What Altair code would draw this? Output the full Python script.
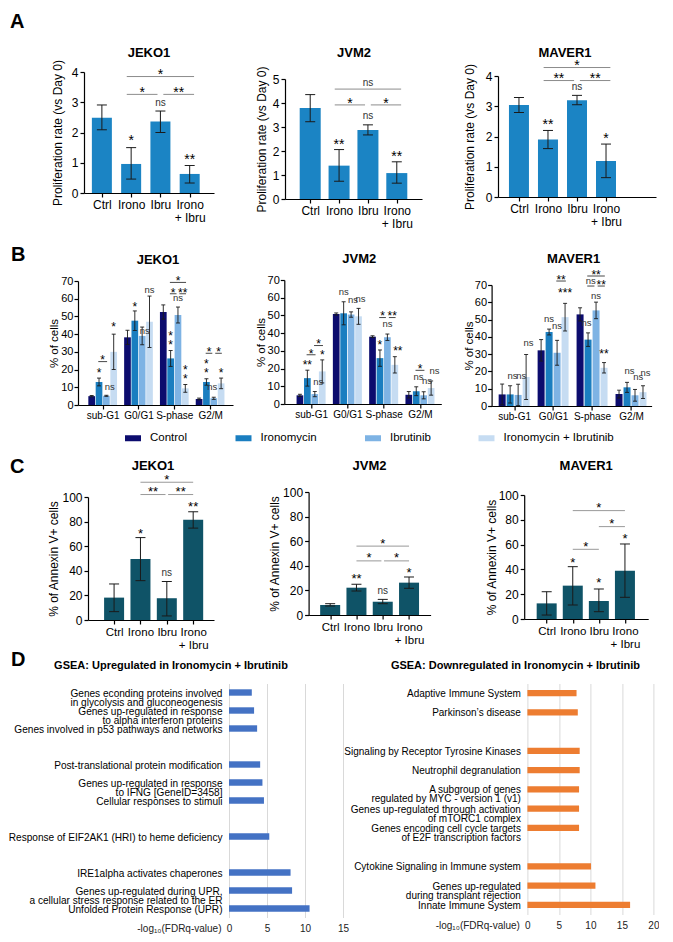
import json
import altair as alt
import pandas as pd

FONT = "Liberation Sans"
NARROW = "Liberation Sans Narrow, Liberation Sans"
ERR = "#1a1a1a"

# ================= Panel A : proliferation rate =================
a_categories = ["Ctrl", "Irono", "Ibru", "Irono\n+ Ibru"]
a_ytitle = "Proliferation rate (vs Day 0)"
a_lines = ["JEKO1", "JVM2", "MAVER1"]

a_jeko1_mean = [2.49, 0.96, 2.36, 0.63]
a_jeko1_lo = [2.09, 0.46, 2.00, 0.33]
a_jeko1_hi = [2.91, 1.50, 2.71, 0.91]
a_jeko1_sig = [(1, 1.83, "*"), (2, 2.97, "ns"), (3, 1.22, "**")]
a_jeko1_br = [(1, 3, 3.85, "*"), (1, 2, 3.26, "*"), (2, 3, 3.26, "**")]

a_jvm2_mean = [3.79, 1.39, 2.88, 1.08]
a_jvm2_lo = [3.22, 0.74, 2.67, 0.66]
a_jvm2_hi = [4.35, 2.06, 3.09, 1.55]
a_jvm2_sig = [(1, 2.40, "**"), (2, 3.44, "ns"), (3, 1.92, "**")]
a_jvm2_br = [(1, 3, 4.58, "ns"), (1, 2, 3.92, "*"), (2, 3, 3.92, "*")]

a_maver1_mean = [3.04, 1.90, 3.20, 1.19]
a_maver1_lo = [2.79, 1.60, 3.05, 0.64]
a_maver1_hi = [3.29, 2.20, 3.36, 1.75]
a_maver1_sig = [(1, 2.49, "**"), (2, 3.65, "ns"), (3, 2.04, "*")]
a_maver1_br = [(1, 3, 4.28, "*"), (1, 2, 3.85, "**"), (2, 3, 3.85, "**")]

# ================= Panel B : cell cycle =================
b_phases = ["sub-G1", "G0/G1", "S-phase", "G2/M"]
b_treatments = ["Control", "Ironomycin", "Ibrutinib", "Ironomycin + Ibrutinib"]
b_colors = ["#0C0C6E", "#1A7EC0", "#7EB3E4", "#C6DCF2"]
b_ytitle = "% of cells"

b_jeko1_mean = [[5.0, 13.0, 5.2, 30.0], [38.2, 47.6, 39.0, 47.0],
                [52.5, 26.3, 50.8, 9.4], [3.4, 13.0, 3.8, 12.2]]
b_jeko1_err = [[0.4, 2.2, 0.3, 10.0], [4.0, 5.5, 5.0, 14.5],
               [4.0, 4.5, 4.5, 2.2], [0.5, 1.8, 0.6, 3.0]]
b_jeko1_sig = [(0, 1, 19.8, "*"), (0, 2.45, 10.0, "ns"), (0, 3, 46.0, "*"),
               (1, 1, 57.4, "*"), (1, 2.35, 42.0, "ns"), (1, 3, 65.0, "ns"),
               (2, 1, 40.8, "*"), (2, 1, 35.6, "*"), (2, 2, 60.2, "ns"),
               (2, 3, 21.6, "*"), (2, 3, 16.4, "*"),
               (3, 1, 25.0, "*"), (3, 1, 19.8, "*"), (3, 1.8, 10.0, "ns"), (3, 3, 19.8, "*")]
b_jeko1_br = [(0, 1, 2, 24.5, "*"), (2, 1, 3, 69.2, "*"), (2, 1, 2, 62.8, "*"),
              (2, 2, 3, 62.8, "**"), (3, 1, 2, 29.2, "*"), (3, 2, 3, 29.2, "*")]

b_jvm2_mean = [[4.9, 14.6, 5.6, 18.4], [50.8, 51.2, 50.5, 49.5],
               [38.0, 25.9, 37.7, 22.1], [5.2, 7.2, 4.9, 9.0]]
b_jvm2_err = [[0.6, 4.5, 1.5, 6.5], [0.6, 6.5, 1.5, 4.5],
              [0.5, 4.6, 1.8, 4.6], [1.8, 2.5, 2.0, 4.0]]
b_jvm2_sig = [(0, 1, 24.0, "**"), (0, 2.45, 12.2, "ns"), (0, 3, 29.6, "*"),
              (1, 1, 63.4, "ns"), (1, 2.25, 58.7, "ns"), (1, 3.25, 59.5, "ns"),
              (2, 1, 35.3, "*"), (2, 2, 45.2, "ns"), (2, 3.4, 31.5, "**"),
              (3, 1.3, 15.0, "ns"), (3, 2.45, 12.8, "ns"), (3, 3.45, 18.4, "ns")]
b_jvm2_br = [(0, 1, 2, 27.8, "*"), (0, 2, 3, 33.0, "*"), (2, 1, 2, 48.8, "*"),
             (2, 2, 3, 48.8, "**"), (3, 1, 2, 19.0, "*")]

b_maver1_mean = [[6.7, 6.7, 6.4, 16.8], [32.2, 42.8, 30.8, 51.4],
                 [53.0, 38.4, 55.3, 22.1], [6.9, 10.8, 6.2, 8.0]]
b_maver1_err = [[6.0, 5.0, 6.2, 13.0], [6.2, 1.7, 7.2, 8.0],
                [3.8, 3.9, 4.8, 3.0], [2.3, 2.9, 3.4, 3.7]]
b_maver1_sig = [(0, 1.3, 17.3, "ns"), (0, 2.4, 17.3, "ns"), (0, 3.3, 36.4, "ns"),
                (1, 1, 50.2, "ns"), (1, 2, 46.0, "ns"), (1, 3, 67.5, "***"),
                (2, 0.8, 48.0, "ns"), (2, 2, 63.7, "ns"), (2, 3, 32.2, "**"),
                (3, 1.3, 20.5, "ns"), (3, 2.4, 16.9, "ns"), (3, 3.3, 19.2, "ns")]
b_maver1_br = [(1, 2, 3, 72.3, "**"), (2, 1, 3, 75.2, "**"), (2, 1, 2, 69.4, "ns"),
               (2, 2, 3, 69.4, "**")]

# ================= Panel C : Annexin V =================
c_ytitle = "% of Annexin V+ cells"
c_color = "#0F5367"

c_jeko1_mean = [18.2, 49.5, 17.7, 81.5]
c_jeko1_lo = [6.8, 32.0, 3.3, 74.7]
c_jeko1_hi = [29.3, 67.0, 31.3, 88.0]
c_jeko1_sig = [(1, 73.0, "*"), (2, 38.6, "ns"), (3, 94.6, "**")]
c_jeko1_br = [(1, 3, 112.0, "*"), (1, 2, 102.0, "**"), (2, 3, 102.0, "**")]

c_jvm2_mean = [8.1, 22.2, 10.8, 26.3]
c_jvm2_lo = [7.3, 19.5, 9.2, 21.7]
c_jvm2_hi = [9.2, 25.0, 12.7, 30.9]
c_jvm2_sig = [(1, 32.0, "**"), (2, 19.5, "ns"), (3, 37.0, "*")]
c_jvm2_br = [(1, 3, 56.0, "*"), (1, 2, 44.0, "*"), (2, 3, 44.0, "*")]

c_maver1_mean = [12.6, 26.9, 14.5, 39.0]
c_maver1_lo = [3.2, 11.3, 5.9, 17.5]
c_maver1_hi = [22.0, 42.2, 24.2, 60.5]
c_maver1_sig = [(1, 48.0, "*"), (2, 31.5, "*"), (3, 67.7, "*")]
c_maver1_br = [(1, 2, 56.2, "*"), (2, 3, 74.5, "*"), (1, 3, 87.4, "*")]

# ================= Panel D : GSEA =================
d_axis_title = "-log\u2081\u2080(FDRq-value)"
d_up_title = "GSEA: Upregulated in Ironomycin + Ibrutinib"
d_up_slots = [0, 1, 2, 4, 5, 6, 8, 10, 11, 12]
d_up_labels = ["Genes econding proteins involved\nin glycolysis and gluconeogenesis",
               "Genes up-regulated in response\nto alpha interferon proteins",
               "Genes involved in p53 pathways and networks",
               "Post-translational protein modification",
               "Genes up-regulated in response\nto IFNG [GeneID=3458]",
               "Cellular responses to stimuli",
               "Response of EIF2AK1 (HRI) to heme deficiency",
               "IRE1alpha activates chaperones",
               "Genes up-regulated during UPR,\na cellular stress response related to the ER",
               "Unfolded Protein Response (UPR)"]
d_up_values = [3.0, 3.3, 3.7, 4.1, 4.4, 4.6, 5.3, 8.1, 8.3, 10.6]

d_dn_title = "GSEA: Downregulated in Ironomycin + Ibrutinib"
d_dn_slots = [0, 1, 3, 4, 5, 6, 7, 9, 10, 11]
d_dn_labels = ["Adaptive Immune System",
               "Parkinson\u2019s disease",
               "Signaling by Receptor Tyrosine Kinases",
               "Neutrophil degranulation",
               "A subgroup of genes\nregulated by MYC - version 1 (v1)",
               "Genes up-regulated through activation\nof mTORC1 complex",
               "Genes encoding cell cycle targets\nof E2F transcription factors",
               "Cytokine Signaling in Immune system",
               "Genes up-regulated\nduring transplant rejection",
               "Innate Immune System"]
d_dn_values = [7.8, 8.0, 8.3, 8.3, 8.2, 8.2, 8.2, 10.1, 10.8, 16.3]

panel_letters = ["A", "B", "C", "D"]


# ----------------------------------------------------------------
def lab_expr(labels):
    arr = [l.split("\n") if "\n" in l else l for l in labels]
    return json.dumps(arr, ensure_ascii=False) + "[datum.value]"


def bracket_rows(brs, pos, e_out, e_in):
    rows = []
    for idx, (g, a, b, y, t) in enumerate(brs):
        left_shared = any(j != idx and o[0] == g and abs(o[3] - y) < 1e-9 and o[2] == a
                          for j, o in enumerate(brs))
        right_shared = any(j != idx and o[0] == g and abs(o[3] - y) < 1e-9 and o[1] == b
                           for j, o in enumerate(brs))
        x1 = pos(g, a) + (e_in if left_shared else -e_out)
        x2 = pos(g, b) + (-e_in if right_shared else e_out)
        rows.append({"x": x1, "x2": x2, "xm": (x1 + x2) / 2, "y": y, "t": t})
    return rows


def text_layers(rows, X, Y, star_size, ns_size, star_dy, ns_dy):
    out = []
    stars = [r for r in rows if "n" not in r["t"]]
    nss = [r for r in rows if "n" in r["t"]]
    if stars:
        out.append(alt.Chart(pd.DataFrame(stars)).mark_text(
            font=FONT, fontSize=star_size, dy=star_dy, baseline="middle", align="center",
            color="black").encode(x=X("x"), y=Y("y"), text="t:N"))
    if nss:
        out.append(alt.Chart(pd.DataFrame(nss)).mark_text(
            font=FONT, fontSize=ns_size, dy=ns_dy, baseline="middle", align="center",
            color="#333333").encode(x=X("x"), y=Y("y"), text="t:N"))
    return out


def deco_layers(items):
    """Panel letters / panel titles, placed relative to the panel's plot origin."""
    out = []
    for (t, px, py, size, align, baseline) in items:
        out.append(alt.Chart(pd.DataFrame({"t": [t]})).mark_text(
            font=FONT, fontSize=size, fontWeight="bold", align=align, baseline=baseline,
            color="black").encode(x=alt.value(px), y=alt.value(py), text="t:N"))
    return out


def simple_panel(cats, mean, lo, hi, sig, brs, c):
    n = len(mean)
    xs = alt.Scale(domain=c["xdom"], range=c["xr"], nice=False, zero=False)
    ys = alt.Scale(domain=[0, c["ymax"]], range=c["yr"], nice=False, zero=True)
    xax = alt.Axis(values=list(range(n)), labelExpr=lab_expr(cats), title=None, labelAngle=0,
                   labelFont=c["xfont"], labelFontSize=c["xsize"], labelLineHeight=c["xlh"],
                   labelPadding=2, tickSize=4, grid=False, labelFlush=False, labelOverlap=False)
    yax = alt.Axis(values=c["yvals"], title=c["ytitle"], titleFont=FONT, titleFontSize=12,
                   titleFontWeight="normal", titlePadding=c["tpad"], labelFont=c["yfont"],
                   labelFontSize=12, labelPadding=2, tickSize=4, grid=False, labelFlush=False,
                   offset=-c["xr"][0])

    def X(f):
        return alt.X(f + ":Q", scale=xs, axis=xax)

    def Y(f):
        return alt.Y(f + ":Q", scale=ys, axis=yax)

    df = pd.DataFrame({"x": list(range(n)), "m": mean, "lo": lo, "hi": hi})
    layers = [
        alt.Chart(df).mark_bar(size=c["bar"], color=c["color"], orient="vertical", opacity=1)
        .encode(x=X("x"), y=Y("m")),
        alt.Chart(df).mark_rule(color=ERR, strokeWidth=1, opacity=1)
        .encode(x=X("x"), y=Y("lo"), y2=alt.Y2("hi")),
        alt.Chart(df).mark_tick(orient="horizontal", size=c["cap"], thickness=1, color=ERR, opacity=1)
        .encode(x=X("x"), y=Y("hi")),
        alt.Chart(df).mark_tick(orient="horizontal", size=c["cap"], thickness=1, color=ERR, opacity=1)
        .encode(x=X("x"), y=Y("lo")),
    ]
    sig_rows = [{"x": i, "y": y, "t": t} for (i, y, t) in sig]
    layers += text_layers(sig_rows, X, Y, c["star"], c["ns"], 0.27 * c["star"], 0)
    br = bracket_rows([(0, a, b, y, t) for (a, b, y, t) in brs], lambda g, s: s, c["e_out"], c["e_in"])
    layers.append(alt.Chart(pd.DataFrame(br)).mark_rule(color=c["brc"], strokeWidth=1, opacity=1)
                  .encode(x=X("x"), x2=alt.X2("x2"), y=Y("y")))
    br_txt = [{"x": r["xm"], "y": r["y"], "t": r["t"]} for r in br]
    layers += text_layers(br_txt, X, Y, c["star"], c["ns"], 0.27 * c["star"] - c["gap"], -c["gap"] - 1)
    layers += deco_layers(c["deco"])
    return alt.layer(*layers).properties(width=c["w"], height=c["h"])


SW = 0.205
cscale = alt.Scale(domain=b_treatments, range=b_colors)


def cycle_panel(mean, err, sig, brs, c, legend):
    xs = alt.Scale(domain=c["xdom"], range=c["xr"], nice=False, zero=False)
    ys = alt.Scale(domain=[0, 70], range=c["yr"], nice=False, zero=True)
    xax = alt.Axis(values=[0, 1, 2, 3], labelExpr=lab_expr(b_phases), title=None, labelAngle=0,
                   labelFont=FONT, labelFontSize=10, labelPadding=1, tickSize=4, grid=False,
                   labelFlush=False, labelOverlap=False)
    yax = alt.Axis(values=list(range(0, 71, 10)), title=b_ytitle, titleFont=FONT,
                   titleFontSize=11.5, titleFontWeight="normal", titlePadding=c["tpad"],
                   labelFont=FONT, labelFontSize=11, labelPadding=1, tickSize=4, grid=False,
                   labelFlush=False, offset=-c["xr"][0])

    def X(f):
        return alt.X(f + ":Q", scale=xs, axis=xax)

    def Y(f):
        return alt.Y(f + ":Q", scale=ys, axis=yax)

    def pos(g, s):
        return g + (s - 1.5) * SW

    rows = []
    for g in range(4):
        for k in range(4):
            m = mean[g][k]
            e = err[g][k]
            rows.append({"x": pos(g, k), "m": m, "lo": max(m - e, 0), "hi": m + e,
                         "t": b_treatments[k]})
    df = pd.DataFrame(rows)
    layers = [
        alt.Chart(df).mark_bar(size=c["bar"], orient="vertical", opacity=1).encode(
            x=X("x"), y=alt.Y("m:Q", scale=ys, axis=yax, stack=None),
            color=alt.Color("t:N", scale=cscale, legend=legend)),
        alt.Chart(df).mark_rule(color=ERR, strokeWidth=0.9, opacity=1)
        .encode(x=X("x"), y=Y("lo"), y2=alt.Y2("hi")),
        alt.Chart(df).mark_tick(orient="horizontal", size=4, thickness=0.9, color=ERR, opacity=1)
        .encode(x=X("x"), y=Y("hi")),
        alt.Chart(df).mark_tick(orient="horizontal", size=4, thickness=0.9, color=ERR, opacity=1)
        .encode(x=X("x"), y=Y("lo")),
    ]
    sig_rows = [{"x": pos(g, s), "y": y, "t": t} for (g, s, y, t) in sig]
    layers += text_layers(sig_rows, X, Y, 12, 9.5, 3.2, 0)
    if brs:
        br = bracket_rows(brs, pos, 0.1 * SW, 0.2 * SW)
        layers.append(alt.Chart(pd.DataFrame(br)).mark_rule(color="#333333", strokeWidth=0.9, opacity=1)
                      .encode(x=X("x"), x2=alt.X2("x2"), y=Y("y")))
        br_txt = [{"x": r["xm"], "y": r["y"], "t": r["t"]} for r in br]
        layers += text_layers(br_txt, X, Y, 12, 9.5, -1.2, -5)
    layers += deco_layers(c["deco"])
    return alt.layer(*layers).properties(width=c["w"], height=c["h"])


def gsea_panel(slots, labels, values, nslots, xmax, color, c):
    lab_arr = [""] * nslots
    for s, l in zip(slots, labels):
        lab_arr[s] = l.split("\n") if "\n" in l else l
    x0 = c["xr"][0]
    yax = alt.Axis(labelExpr=json.dumps(lab_arr, ensure_ascii=False) + "[datum.value]",
                   title=None, ticks=False, domain=False, labelBaseline="top", labelOffset=-4,
                   labelLineHeight=9, labelFontSize=c["lf"], labelFont=FONT, labelPadding=7,
                   labelLimit=0, grid=False, labelColor="black", offset=-x0)
    ys = alt.Scale(domain=list(range(nslots)), paddingInner=c["pi"], paddingOuter=c["po"])
    xax = alt.Axis(values=list(range(0, xmax + 1, 5)), grid=True, gridColor="#d9d9d9", gridWidth=1,
                   domain=False, ticks=False, labelFont=FONT, labelFontSize=10, labelPadding=6,
                   labelFlush=False, labelColor="#222222", title=d_axis_title, titleX=x0 - 8,
                   titleY=6, titleAlign="right", titleBaseline="top", titleAngle=0,
                   titleFontWeight="normal", titleFontSize=10, titleFont=FONT,
                   titleColor="#222222")
    df = pd.DataFrame({"s": slots, "v": values})
    ch = alt.Chart(df).mark_bar(color=color, opacity=1).encode(
        x=alt.X("v:Q", scale=alt.Scale(domain=[0, xmax], range=c["xr"], nice=False), axis=xax),
        y=alt.Y("s:O", scale=ys, axis=yax))
    return alt.layer(ch, *deco_layers(c["deco"])).properties(width=c["w"], height=c["h"])


# ---------------- build panels ----------------
# text placements are relative to each panel's plot origin (top-left corner of its plot area)
a_common = dict(xfont=FONT, xsize=12, xlh=13, yfont=FONT, ytitle=a_ytitle, color="#1B84C4",
                cap=10, star=14, ns=10, e_out=0.15, e_in=0.1, brc="#8c8c8c", gap=5)
A1 = simple_panel(a_categories, a_jeko1_mean, a_jeko1_lo, a_jeko1_hi, a_jeko1_sig, a_jeko1_br,
                  dict(a_common, w=136, h=121, xr=[6, 136], yr=[121, 0], xdom=[-0.44, 3.66], ymax=4,
                       yvals=[0, 1, 2, 3, 4], bar=20, tpad=7,
                       deco=[(panel_letters[0], -68, -44, 20, "left", "alphabetic"),
                             (a_lines[0], 71, -19, 13, "center", "middle")]))
A2 = simple_panel(a_categories, a_jvm2_mean, a_jvm2_lo, a_jvm2_hi, a_jvm2_sig, a_jvm2_br,
                  dict(a_common, w=137, h=127, xr=[0, 137], yr=[127, 7], xdom=[-0.7, 3.7], ymax=5,
                       yvals=[0, 1, 2, 3, 4, 5], bar=21, tpad=4.3,
                       deco=[(a_lines[1], 69, -19, 13, "center", "middle")]))
A3 = simple_panel(a_categories, a_maver1_mean, a_maver1_lo, a_maver1_hi, a_maver1_sig, a_maver1_br,
                  dict(a_common, w=158, h=125, xr=[0, 158], yr=[125, 4], xdom=[-0.55, 4.55], ymax=4,
                       yvals=[0, 1, 2, 3, 4], bar=20, tpad=9.3,
                       deco=[(a_lines[2], 67, -19, 13, "center", "middle")]))

legend = alt.Legend(orient="none", legendX=47, legendY=358, direction="horizontal", title=None,
                    symbolType="M-1,-0.375H1V0.375H-1Z", symbolSize=256, symbolStrokeWidth=0,
                    symbolOpacity=1, labelFont=FONT, labelFontSize=11.5, labelColor="black",
                    columnPadding=47.5, labelOffset=9, padding=0)
B1 = cycle_panel(b_jeko1_mean, b_jeko1_err, b_jeko1_sig, b_jeko1_br,
                 dict(w=155, h=125, xr=[0, 155], yr=[125, 1], xdom=[-0.55, 3.5], bar=6.7, tpad=1,
                      deco=[(panel_letters[1], -67, -19, 20, "left", "alphabetic"),
                            (a_lines[0], 80, -20, 13, "center", "middle")]), legend)
B2 = cycle_panel(b_jvm2_mean, b_jvm2_err, b_jvm2_sig, b_jvm2_br,
                 dict(w=157, h=124, xr=[0, 157], yr=[124, 0], xdom=[-0.6, 3.45], bar=6.7, tpad=1,
                      deco=[(a_lines[1], 75, -21, 13, "center", "middle")]), None)
B3 = cycle_panel(b_maver1_mean, b_maver1_err, b_maver1_sig, b_maver1_br,
                 dict(w=160, h=126, xr=[0, 160], yr=[126, 5], xdom=[-0.45, 3.4], bar=7, tpad=0,
                      deco=[(a_lines[2], 82, -21, 13, "center", "middle")]), None)

c_common = dict(xfont=NARROW, xsize=11.5, xlh=13, yfont=NARROW, ytitle=c_ytitle, color=c_color,
                cap=10, star=13, ns=10, e_out=0.0, e_in=0.05, brc="#999999", gap=6,
                yvals=[0, 20, 40, 60, 80, 100], ymax=100, bar=20)
C1 = simple_panel(a_categories, c_jeko1_mean, c_jeko1_lo, c_jeko1_hi, c_jeko1_sig, c_jeko1_br,
                  dict(c_common, w=136, h=128, xr=[10, 136], yr=[128, 5], xdom=[-0.8, 3.6], tpad=1,
                       deco=[(panel_letters[2], -68, -19, 20, "left", "alphabetic"),
                             (a_lines[0], 75, -26, 13, "center", "middle")]))
C2 = simple_panel(a_categories, c_jvm2_mean, c_jvm2_lo, c_jvm2_hi, c_jvm2_sig, c_jvm2_br,
                  dict(c_common, w=122, h=123, xr=[0, 122], yr=[123, 0], xdom=[-0.63, 3.63], tpad=1,
                       deco=[(a_lines[1], 61, -26, 13, "center", "middle")]))
C3 = simple_panel(a_categories, c_maver1_mean, c_maver1_lo, c_maver1_hi, c_maver1_sig, c_maver1_br,
                  dict(c_common, w=124, h=127, xr=[0, 124], yr=[127, 3], xdom=[-0.67, 3.7], tpad=0,
                       deco=[(a_lines[2], 62, -26, 13, "center", "middle")]))

D1 = gsea_panel(d_up_slots, d_up_labels, d_up_values, 13, 15, "#4472C4",
                dict(w=265, h=234, xr=[151, 265], pi=0.644, po=0.322, lf=10.1,
                     deco=[(panel_letters[3], -67, -18, 20, "left", "alphabetic"),
                           (d_up_title, 93, -18, 11, "center", "middle")]))
D2 = gsea_panel(d_dn_slots, d_dn_labels, d_dn_values, 12, 20, "#ED7D31",
                dict(w=126, h=231, xr=[0, 126], pi=0.667, po=0.333, lf=10,
                     deco=[(d_dn_title, -12, -18, 11, "center", "middle")]))

rowA = alt.hconcat(A1, A2, A3, spacing=41)
rowB = alt.hconcat(B1, B2, B3, spacing=21.3)
rowC = alt.hconcat(C1, C2, C3, spacing=53.6)
rowD = alt.hconcat(D1, D2, spacing=-5.6)

chart = alt.vconcat(
    alt.vconcat(alt.vconcat(rowA, rowB, spacing=16), rowC, spacing=36),
    rowD, spacing=-1.5,
).properties(padding={"top": 4, "left": 0, "right": 0, "bottom": 0},
             background="white").configure_view(stroke=None).configure_axis(
    domainColor="black", tickColor="black", labelColor="black", titleColor="black",
    domainWidth=1.2, tickWidth=1.2)

chart.save("out.html", embed_options={"renderer": "svg", "actions": False})
